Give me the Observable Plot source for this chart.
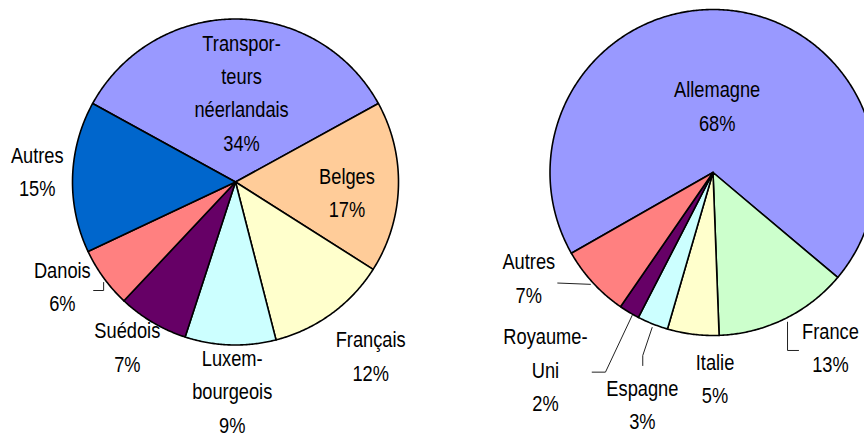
<!DOCTYPE html>
<html>
<head>
<meta charset="utf-8">
<script src="https://cdn.jsdelivr.net/npm/d3@7"></script>
<script src="https://cdn.jsdelivr.net/npm/@observablehq/plot@0.6"></script>
<style>
  html, body { margin: 0; padding: 0; background: #fff; }
  svg { display: block; }
</style>
</head>
<body>
<div id="chart"></div>
<script>
// ---------- DATA ----------
const leftCategories = ["Transporteurs néerlandais", "Belges", "Français", "Luxembourgeois", "Suédois", "Danois", "Autres"];
const leftValues = [34, 17, 12, 9, 7, 6, 15];
const leftLabels = ["Transpor-\nteurs\nnéerlandais", "Belges", "Français", "Luxem-\nbourgeois", "Suédois", "Danois", "Autres"];

const rightCategories = ["Allemagne", "France", "Italie", "Espagne", "Royaume-Uni", "Autres"];
const rightValues = [68, 13, 5, 3, 2, 7];
const rightLabels = ["Allemagne", "France", "Italie", "Espagne", "Royaume-\nUni", "Autres"];

// ---------- STYLE / LAYOUT ----------
const leftColors = ["#9999FF", "#FFCC99", "#FFFFCC", "#CCFFFF", "#660066", "#FF8080", "#0066CC"];
const rightColors = ["#9999FF", "#CCFFCC", "#FFFFCC", "#CCFFFF", "#660066", "#FF8080"];

const W = 864, H = 438;
const leftPie = {cx: 235, cy: 181.5, r: 163, start: -61.2};
const rightPie = {cx: 712.5, cy: 172, r: 163, start: 240.3};

// label placement: [angle nudge (deg) from slice mid-angle, distance as fraction of radius]
const leftLabelPlace = [[3.9, 0.547], [3.7, 0.687], [-1.8, 1.353], [-0.9, 1.285], [2.6, 1.212], [4.8, 1.242], [1.2, 1.218]];
const rightLabelPlace = [[-1.6, 0.407], [-7.8, 1.294], [-7.6, 1.267], [-4.8, 1.488], [9.4, 1.589], [12.7, 1.303]];

// leader lines: pixel offsets from the slice's mid-arc point (null = none)
const leftLeaders = [null, null, null, null, null, [[0, 4.7], [0, 12.7], [-10, 12.7]], null];
const rightLeaders = [null, [[3, 3.2], [3, 31.5], [14, 31.5]], null, [[-0.5, 3.6], [-9.9, 31.6], [-9.9, 41.6]], [[2.9, 3.1], [-23.8, 59.8], [-37.1, 59.8]], [[-2.5, 1.6], [-35.2, 0.3]]];

const FONT_SIZE = 22, LINE_HEIGHT = 1.52, TEXT_SCALE_X = 0.83, TEXT_DY = -3;

const rad = d => d * Math.PI / 180;

function buildPie(pie, cats, vals, labels, colors, place, leaders, key) {
  const s = rad(pie.start);
  const arcs = d3.pie().sort(null).value(d => d).startAngle(s).endAngle(s + 2 * Math.PI)(vals);
  const polys = [], texts = [], leads = [];
  arcs.forEach((a, i) => {
    const id = key + ":" + cats[i];
    const n = Math.max(2, Math.ceil((a.endAngle - a.startAngle) / (Math.PI / 360)));
    polys.push({id, color: colors[i], x: pie.cx, y: pie.cy});
    for (let k = 0; k <= n; k++) {
      const t = a.startAngle + (a.endAngle - a.startAngle) * k / n;
      polys.push({id, color: colors[i], x: pie.cx + pie.r * Math.sin(t), y: pie.cy - pie.r * Math.cos(t)});
    }
    polys.push({id, color: colors[i], x: pie.cx, y: pie.cy});

    const mid = (a.startAngle + a.endAngle) / 2;
    const la = mid + rad(place[i][0]), ld = place[i][1] * pie.r;
    texts.push({x: pie.cx + ld * Math.sin(la), y: pie.cy - ld * Math.cos(la), text: labels[i] + "\n" + vals[i] + "%"});

    if (leaders[i]) {
      const mx = pie.cx + pie.r * Math.sin(mid), my = pie.cy - pie.r * Math.cos(mid);
      leaders[i].forEach(([dx, dy]) => leads.push({id, x: mx + dx, y: my + dy}));
    }
  });
  return {polys, texts, leads};
}

const L = buildPie(leftPie, leftCategories, leftValues, leftLabels, leftColors, leftLabelPlace, leftLeaders, "L");
const R = buildPie(rightPie, rightCategories, rightValues, rightLabels, rightColors, rightLabelPlace, rightLeaders, "R");

const polys = L.polys.concat(R.polys);
const texts = L.texts.concat(R.texts);
const leads = L.leads.concat(R.leads);

const chart = Plot.plot({
  width: W,
  height: H,
  margin: 0,
  x: {domain: [0, W], axis: null},
  y: {domain: [H, 0], axis: null},
  color: {type: "identity"},
  marks: [
    Plot.line(polys, {x: "x", y: "y", z: "id", fill: "color", stroke: "#000", strokeWidth: 1.6, strokeLinejoin: "round"}),
    Plot.line(leads, {x: "x", y: "y", z: "id", stroke: "#222", strokeWidth: 1}),
    Plot.text(texts, {
      x: "x", y: "y", text: "text", dy: TEXT_DY,
      fontSize: FONT_SIZE, lineHeight: LINE_HEIGHT, lineAnchor: "middle", textAnchor: "middle",
      fill: "#000", fontFamily: "'Liberation Sans', Arial, sans-serif"
    })
  ]
});
// condense the label glyphs horizontally (the original uses a narrow sans face)
chart.querySelectorAll('g[aria-label="text"] text').forEach(t => {
  const tr = t.getAttribute("transform") || "";
  t.setAttribute("transform", tr + ` scale(${TEXT_SCALE_X},1)`);
});
document.getElementById("chart").appendChild(chart);
</script>
</body>
</html>
